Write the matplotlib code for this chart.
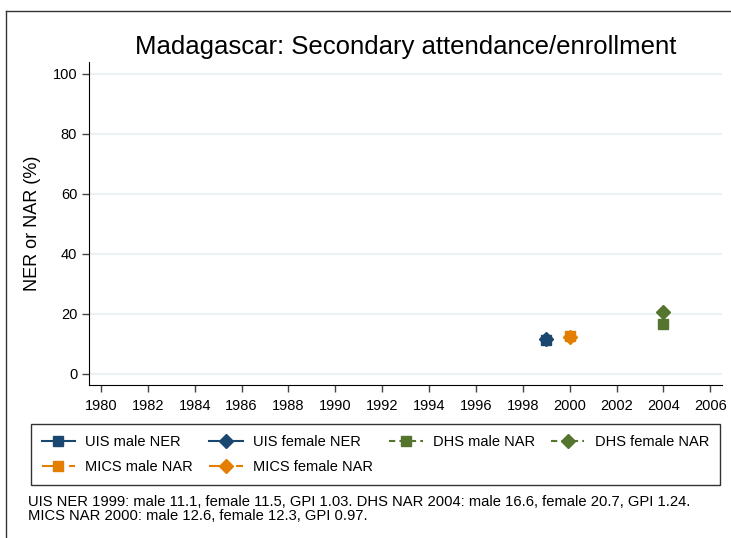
import matplotlib
matplotlib.use('Agg')
import matplotlib.pyplot as plt
from matplotlib.lines import Line2D

plt.rcParams['font.family'] = ['Liberation Sans', 'DejaVu Sans']

# data
uis_years = [1999]
uis_male = [11.1]
uis_female = [11.5]
dhs_years = [2004]
dhs_male = [16.6]
dhs_female = [20.7]
mics_years = [2000]
mics_male = [12.6]
mics_female = [12.3]

xticks = list(range(1980, 2007, 2))
yticks = [0, 20, 40, 60, 80, 100]

navy = '#1a476f'
green = '#55752f'
orange = '#e37e00'

fig = plt.figure(figsize=(7.31, 5.38), dpi=100)
ax = fig.add_axes([89 / 731, 1 - 385 / 538, (722 - 89) / 731, (385 - 62) / 538])

ms = 7
ax.plot(uis_years, uis_male, 's', color=navy, ms=ms, zorder=3)
ax.plot(uis_years, uis_female, 'D', color=navy, ms=ms, zorder=3)
ax.plot(dhs_years, dhs_male, 's', color=green, ms=ms, zorder=3)
ax.plot(dhs_years, dhs_female, 'D', color=green, ms=ms, zorder=3)
ax.plot(mics_years, mics_male, 's', color=orange, ms=ms, zorder=3)
ax.plot(mics_years, mics_female, 'D', color=orange, ms=ms, zorder=3)

ax.set_xlim(1979.49, 2006.5)
ax.set_ylim(-3.8, 104)
ax.set_xticks(xticks)
ax.set_yticks(yticks)
ax.tick_params(labelsize=10.5, length=5, width=1, color='#444444')
ax.tick_params(axis='x', pad=5)
for t in yticks:
    ax.axhline(t, color='#eaf2f3', lw=1.6, zorder=1)
for s in ['top', 'right']:
    ax.spines[s].set_visible(False)
ax.set_ylabel('NER or NAR (%)', fontsize=13, labelpad=8)
ax.set_title('Madagascar: Secondary attendance/enrollment', fontsize=18.5, pad=6)

# legend (column-major order so rows read across)
handles = [
    Line2D([], [], color=navy, ls='-', marker='s', ms=7),
    Line2D([], [], color=orange, ls=(0, (6, 3, 1, 3)), marker='s', ms=7),
    Line2D([], [], color=navy, ls='-', marker='D', ms=7),
    Line2D([], [], color=orange, ls=(0, (6, 3, 1, 3)), marker='D', ms=7),
    Line2D([], [], color=green, ls=(0, (3, 2)), marker='s', ms=7),
    Line2D([], [], color=green, ls=(0, (3, 2)), marker='D', ms=7),
]
labels = ['UIS male NER', 'MICS male NAR', 'UIS female NER', 'MICS female NAR',
          'DHS male NAR', 'DHS female NAR']
leg = fig.legend(handles, labels, ncol=4, loc='upper left',
                 bbox_to_anchor=(30.7 / 731, 1 - 424 / 538),
                 fontsize=10.5, frameon=True, fancybox=False,
                 edgecolor='black', handlelength=2.3, handletextpad=0.7,
                 columnspacing=1.1, borderpad=0.75, labelspacing=0.75,
                 borderaxespad=0)
leg.get_frame().set_linewidth(1)

fig.text(28 / 731, 1 - 495 / 538,
         'UIS NER 1999: male 11.1, female 11.5, GPI 1.03. DHS NAR 2004: male 16.6, female 20.7, GPI 1.24.\n'
         'MICS NAR 2000: male 12.6, female 12.3, GPI 0.97.',
         fontsize=10.6, va='top', linespacing=1.0)

# outer border (top and left only)
fig.add_artist(Line2D([6 / 731, 6 / 731], [0, 1 - 11 / 538], color='#333333', lw=1, transform=fig.transFigure))
fig.add_artist(Line2D([6 / 731, 1], [1 - 11 / 538, 1 - 11 / 538], color='#333333', lw=1, transform=fig.transFigure))

fig.savefig('out.png', dpi=100)
